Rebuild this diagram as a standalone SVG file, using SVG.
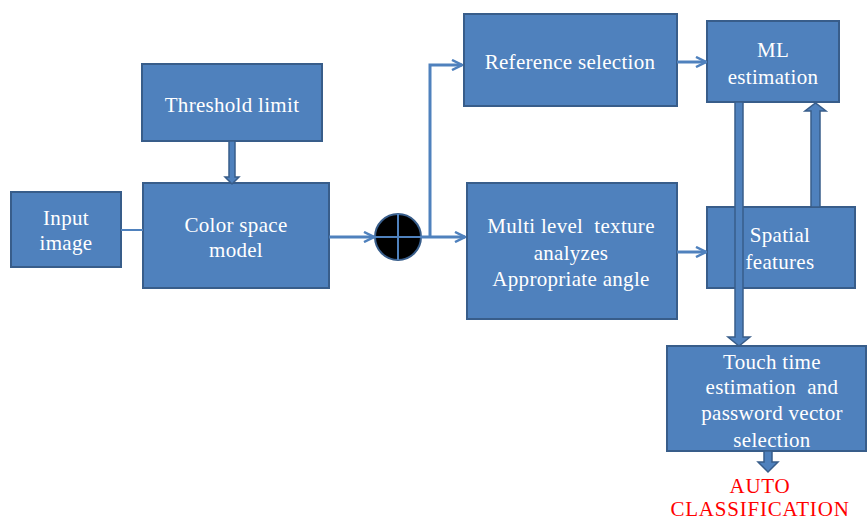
<svg xmlns="http://www.w3.org/2000/svg" width="867" height="520" viewBox="0 0 867 520">
<style>
.box{fill:#4F81BD;stroke:#385D8A;stroke-width:2}
.t{font-family:"Liberation Serif","Times New Roman",serif;font-size:21px;letter-spacing:0.3px;fill:#FFFFFF;text-anchor:middle}
.red{font-family:"Liberation Serif","Times New Roman",serif;font-size:21px;letter-spacing:0.8px;fill:#FF0000;text-anchor:middle}
.ln{fill:none;stroke:#4F81BD;stroke-width:3}
.thk{fill:#4F81BD;stroke:#385D8A;stroke-width:1.5}
</style>
<defs>
<marker id="arr" viewBox="0 0 12 12" refX="11" refY="6" markerWidth="12" markerHeight="12" markerUnits="userSpaceOnUse" orient="auto">
<path d="M1,1 L11,6 L1,11" fill="none" stroke="#4F81BD" stroke-width="2.5"/>
</marker>
</defs>
<rect width="867" height="520" fill="#FFFFFF"/>
<g id="input"><rect class="box" x="11" y="192" width="110" height="75"/><text class="t" x="66" y="225">Input</text><text class="t" x="66" y="250">image</text></g>
<g id="threshold"><rect class="box" x="142" y="64" width="180" height="77"/><text class="t" x="232" y="112">Threshold limit</text></g>
<g id="colorspace"><rect class="box" x="143" y="183" width="186" height="105"/><text class="t" x="236" y="232">Color space</text><text class="t" x="236" y="257">model</text></g>
<g id="sum"><circle cx="398" cy="237" r="23" fill="#000000" stroke="#385D8A" stroke-width="2"/><path d="M375,237 H421 M398,214 V260" stroke="#4F81BD" stroke-width="2"/></g>
<g id="reference"><rect class="box" x="464" y="14" width="213" height="92"/><text class="t" x="570" y="69">Reference selection</text></g>
<g id="ml"><rect class="box" x="707" y="21" width="132" height="81"/><text class="t" x="773" y="57">ML</text><text class="t" x="773" y="84">estimation</text></g>
<g id="multilevel"><rect class="box" x="467" y="183" width="210" height="136"/><text class="t" x="571" y="233">Multi level&#160; texture</text><text class="t" x="571" y="260">analyzes</text><text class="t" x="571" y="286">Appropriate angle</text></g>
<g id="spatial"><rect class="box" x="707" y="207" width="148" height="81"/><text class="t" x="780" y="242">Spatial</text><text class="t" x="780" y="269">features</text></g>
<g id="touch"><rect class="box" x="667" y="346" width="199" height="105"/><text class="t" x="772" y="369">Touch time</text><text class="t" x="772" y="394">estimation&#160; and</text><text class="t" x="772" y="420">password vector</text><text class="t" x="772" y="447">selection</text></g>
<g id="auto"><text class="red" x="760" y="493">AUTO</text><text class="red" x="760" y="516">CLASSIFICATION</text></g>
<g id="connectors">
<path d="M121,230 H143" stroke="#4F81BD" stroke-width="2" fill="none"/>
<path class="thk" d="M229,141 H235 V177 H239 L232,184 L225,177 H229 Z"/>
<path class="ln" d="M329,237 H374" marker-end="url(#arr)"/>
<path class="ln" d="M421,237 H465" marker-end="url(#arr)"/>
<path class="ln" d="M430,237 V65 H462" marker-end="url(#arr)"/>
<path class="ln" d="M677,62 H706" marker-end="url(#arr)"/>
<path class="ln" d="M677,252 H706" marker-end="url(#arr)"/>
<path class="thk" d="M811,207 V111 H805 L815.5,103 L826,111 H820 V207 Z"/>
<path class="thk" d="M735,102 V337 H728 L739,346 L750,337 H743 V102 Z"/>
<path class="thk" d="M764,451 V462 H758 L768,472 L778,462 H772 V451 Z"/>
</g>
</svg>
